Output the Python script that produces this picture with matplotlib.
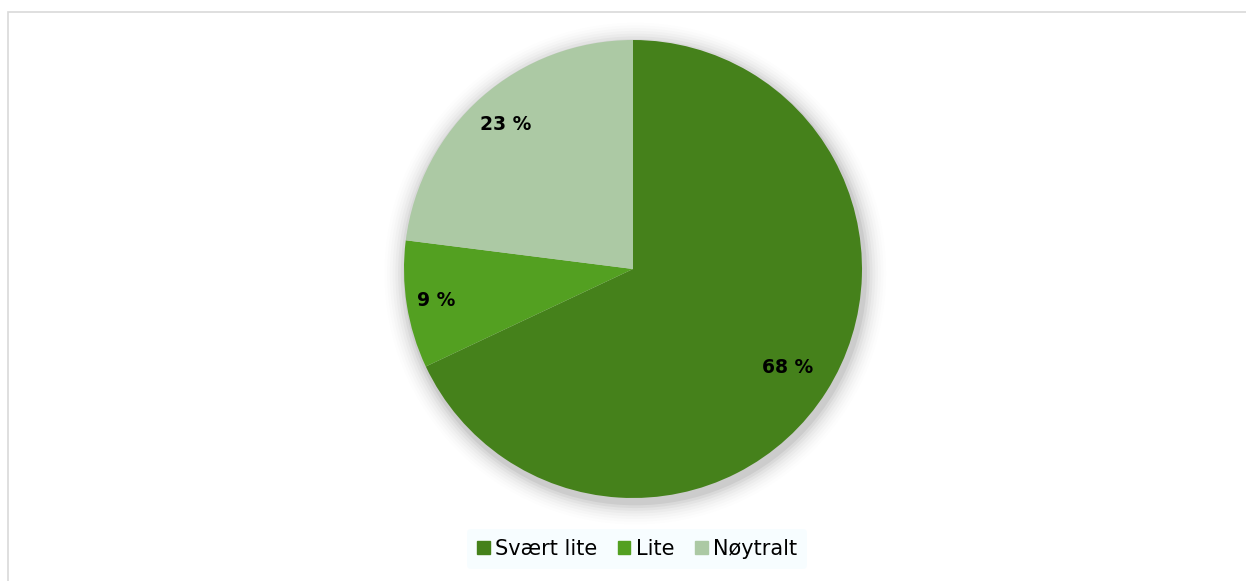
import matplotlib.pyplot as plt
import numpy as np
from matplotlib.patches import Rectangle, Circle

# data
labels = ["Svært lite", "Lite", "Nøytralt"]
values = [68, 9, 23]
colors = ["#45811b", "#53a021", "#acc9a4"]

W, H = 1246, 581
fig = plt.figure(figsize=(W / 100, H / 100), dpi=100)
fig.patch.set_facecolor("white")

# light frame around the chart area
fig.patches.append(Rectangle((8 / W, -0.1), 1.2, (H - 12) / H + 0.1,
                             transform=fig.transFigure, fill=False,
                             edgecolor="#d9d9d9", linewidth=1.2))

# pie axes: centre ~ (633, 269) px, radius ~ 229 px
cx, cy, r = 633, 269, 229
ax = fig.add_axes([(cx - r) / W, (H - cy - r) / H, 2 * r / W, 2 * r / H])

# soft shadow
for k, a in zip(range(8), [0.05, 0.04, 0.03, 0.025, 0.02, 0.015, 0.01, 0.008]):
    ax.add_patch(Circle((0.01, -0.02), 1.0 + 0.012 * (k + 1), color="black",
                        alpha=a, linewidth=0, zorder=0, clip_on=False))

wedges, texts = ax.pie(values, colors=colors, startangle=90, counterclock=False,
                       radius=1.0, wedgeprops=dict(linewidth=0))
for w in wedges:
    w.set_zorder(2)

# percentage labels
start = 90.0
for v, dist in zip(values, [0.80, 0.87, 0.84]):
    mid = np.deg2rad(start - v * 3.6 / 2)
    start -= v * 3.6
    ax.text(dist * np.cos(mid), dist * np.sin(mid), f"{v} %", ha="center", va="center",
            fontsize=13.5, fontweight="bold", color="black", zorder=3)

ax.set_xlim(-1, 1)
ax.set_ylim(-1, 1)
ax.set_aspect("equal")
ax.axis("off")

# legend
handles = [Rectangle((0, 0), 1, 1, color=c) for c in colors]
leg = fig.legend(handles, labels, loc="center", bbox_to_anchor=(637 / W, 1 - 549 / H),
                 ncol=3, frameon=True, fontsize=15, handlelength=0.6, handleheight=0.6,
                 handletextpad=0.25, columnspacing=1.0, borderpad=0.5)
leg.get_frame().set_facecolor("#f7fdff")
leg.get_frame().set_edgecolor("none")
leg.get_frame().set_alpha(0.9)

fig.savefig("out.png", dpi=100)
